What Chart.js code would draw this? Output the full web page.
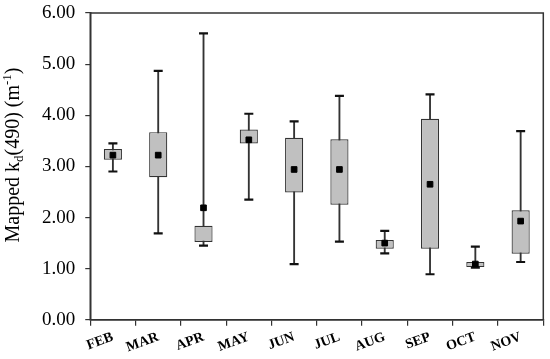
<!DOCTYPE html>
<html lang="en">
<head>
<meta charset="UTF-8">
<title>Mapped kd(490) by month</title>
<style>
  html, body { margin: 0; padding: 0; background: #fff; }
  #wrap { width: 550px; height: 359px; }
</style>
</head>
<body>
<div id="wrap"><canvas id="myChart" width="550" height="359"></canvas></div>
<script src="https://cdn.jsdelivr.net/npm/chart.js"></script>
<script>
// values
const months     = ['FEB', 'MAR', 'APR', 'MAY', 'JUN', 'JUL', 'AUG', 'SEP', 'OCT', 'NOV'];
const whiskerMin = [2.90, 1.69, 1.45, 2.35, 1.09, 1.53, 1.30, 0.89, 1.02, 1.13];
const q1         = [3.13, 2.79, 1.52, 3.45, 2.49, 2.25, 1.39, 1.39, 1.03, 1.29];
const q3         = [3.34, 3.67, 1.84, 3.72, 3.56, 3.53, 1.56, 3.93, 1.13, 2.14];
const whiskerMax = [3.45, 4.87, 5.60, 4.03, 3.88, 4.38, 1.74, 4.41, 1.43, 3.69];
const means      = [3.22, 3.22, 2.19, 3.52, 2.94, 2.94, 1.50, 2.65, 1.09, 1.93];
const yTicks     = [0, 1, 2, 3, 4, 5, 6];

const serif = "'Liberation Serif', 'Times New Roman', serif";
const dark = '#333333';

// frame round the plot area (top and right sides)
const frame = {
    id: 'frame',
    afterDraw(chart) {
        const { ctx, chartArea: a } = chart;
        ctx.save();
        ctx.strokeStyle = dark;
        ctx.lineWidth = 1.5;
        ctx.strokeRect(a.left, a.top, a.right - a.left, a.bottom - a.top);
        ctx.restore();
    }
};

// y axis title with subscript d and superscript -1
const yTitle = {
    id: 'yTitle',
    afterDraw(chart) {
        const ctx = chart.ctx;
        const big = '20px ' + serif, small = '13px ' + serif;
        const parts = [
            ['Mapped k', big, 0],
            ['d', small, 4],
            ['(490) (m', big, 0],
            ['-1', small, -8],
            [')', big, 0]
        ];
        let total = 0;
        parts.forEach(p => { ctx.font = p[1]; total += ctx.measureText(p[0]).width; });
        ctx.save();
        ctx.translate(19, 155);
        ctx.rotate(-Math.PI / 2);
        ctx.fillStyle = '#000';
        ctx.textBaseline = 'alphabetic';
        let x = -total / 2;
        parts.forEach(p => {
            ctx.font = p[1];
            ctx.fillText(p[0], x, p[2]);
            x += ctx.measureText(p[0]).width;
        });
        ctx.restore();
    }
};

const ctx = document.getElementById('myChart').getContext('2d');
new Chart(ctx, {
    type: 'bar',
    data: {
        labels: months,
        datasets: [
            {
                label: 'mean',
                type: 'line',
                data: means,
                showLine: false,
                pointStyle: 'rect',
                pointRadius: 4,
                pointBorderWidth: 1,
                pointBackgroundColor: '#000',
                pointBorderColor: '#000',
                order: 0
            },
            {
                label: 'max',
                type: 'line',
                data: whiskerMax,
                showLine: false,
                pointStyle: 'line',
                pointRadius: 4.5,
                pointBorderWidth: 2.2,
                pointBorderColor: '#111',
                order: 1
            },
            {
                label: 'min',
                type: 'line',
                data: whiskerMin,
                showLine: false,
                pointStyle: 'line',
                pointRadius: 4.5,
                pointBorderWidth: 2.2,
                pointBorderColor: '#111',
                order: 1
            },
            {
                label: 'box',
                data: months.map((m, i) => [q1[i], q3[i]]),
                backgroundColor: '#c0c0c0',
                borderColor: dark,
                borderWidth: 1.2,
                borderSkipped: false,
                barPercentage: 0.4,
                categoryPercentage: 1,
                grouped: false,
                order: 2
            },
            {
                label: 'whisker',
                data: months.map((m, i) => [whiskerMin[i], whiskerMax[i]]),
                backgroundColor: dark,
                borderWidth: 0,
                barThickness: 1.2,
                grouped: false,
                order: 3
            }
        ]
    },
    options: {
        responsive: false,
        animation: false,
        events: [],
        layout: { padding: { left: 32, right: 4, top: 13, bottom: 0 } },
        plugins: { legend: { display: false }, tooltip: { enabled: false } },
        scales: {
            x: {
                offset: true,
                afterFit: axis => { axis.paddingRight = 0; },
                grid: { offset: true, drawOnChartArea: false, drawTicks: true, tickLength: 6, color: dark, lineWidth: 1.2 },
                border: { display: true, color: dark, width: 1.5 },
                ticks: {
                    color: '#000',
                    font: { family: serif, size: 14, weight: 'bold' },
                    minRotation: 20,
                    maxRotation: 20,
                    padding: 3,
                    autoSkip: false
                }
            },
            y: {
                min: yTicks[0],
                max: yTicks[yTicks.length - 1],
                afterBuildTicks: axis => { axis.ticks = yTicks.map(v => ({ value: v })); },
                afterFit: axis => { axis.paddingTop = 0; axis.paddingBottom = 0; },
                grid: { drawOnChartArea: false, drawTicks: true, tickLength: 5, color: dark, lineWidth: 1.2 },
                border: { display: true, color: dark, width: 1.5 },
                ticks: {
                    color: '#000',
                    font: { family: serif, size: 19 },
                    padding: 10,
                    callback: v => Number(v).toFixed(2)
                }
            }
        }
    },
    plugins: [frame, yTitle]
});
</script>
</body>
</html>
